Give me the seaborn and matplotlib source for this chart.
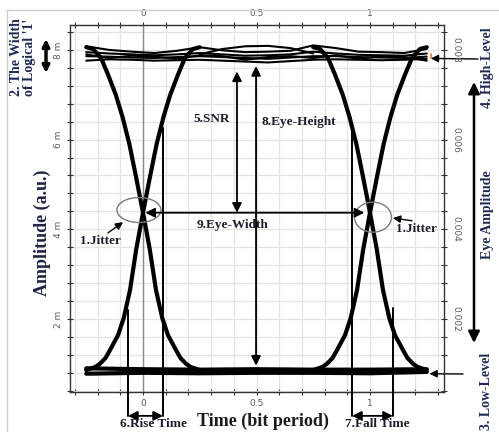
import matplotlib
matplotlib.use("Agg")
import matplotlib.pyplot as plt
from matplotlib.patches import Ellipse, Arc
import numpy as np
import pandas as pd
import seaborn as sns

# Eye diagram of a binary signal: time in bit periods, amplitude in mV.
crossings = [0.0, 1.0]

rise_dt = [-0.25, -0.21, -0.19, -0.165, -0.145, -0.11, -0.085, -0.057, -0.03,
           0.0, 0.03, 0.06, 0.09, 0.12, 0.155, 0.185, 0.22, 0.25]
rise_amp = [0.86, 0.93, 1.00, 1.13, 1.31, 1.64, 2.02, 2.65, 3.55,
            4.37, 5.15, 5.90, 6.50, 7.00, 7.46, 7.82, 8.02, 8.06]
fall_dt = [-0.25, -0.22, -0.185, -0.155, -0.12, -0.09, -0.06, -0.03, 0.0,
           0.03, 0.057, 0.085, 0.11, 0.145, 0.165, 0.19, 0.21, 0.25]
fall_amp = [8.06, 8.02, 7.82, 7.46, 7.00, 6.50, 5.90, 5.15, 4.37,
            3.55, 2.65, 2.02, 1.64, 1.31, 1.13, 1.00, 0.93, 0.86]

high_t = [-0.25, -0.15, -0.05, 0.05, 0.15, 0.25, 0.35, 0.45,
          0.55, 0.65, 0.75, 0.85, 0.95, 1.05, 1.15, 1.25]
high_a = [8.08, 8.00, 7.96, 7.93, 7.98, 8.06, 7.99, 7.95,
          7.96, 7.98, 8.10, 8.04, 7.96, 7.95, 7.93, 8.02]
high_b = [7.95, 7.92, 7.90, 7.88, 7.90, 7.93, 7.90, 7.87,
          7.88, 7.90, 7.96, 7.92, 7.89, 7.88, 7.87, 7.92]
high_c = [7.86, 7.85, 7.83, 7.82, 7.84, 7.86, 7.84, 7.82,
          7.80, 7.83, 7.86, 7.86, 7.84, 7.83, 7.82, 7.85]
high_d = [7.76, 7.79, 7.78, 7.76, 7.77, 7.78, 7.76, 7.74,
          7.72, 7.75, 7.78, 7.79, 7.78, 7.77, 7.78, 7.80]
high_e = [7.90, 7.82, 7.87, 7.85, 7.80, 7.88, 7.86, 7.78,
          7.84, 7.86, 7.82, 7.88, 7.80, 7.86, 7.84, 7.76]
arc_t = [0.25, 0.35, 0.45, 0.55, 0.65, 0.75]
arc_a = [7.90, 8.02, 8.08, 8.09, 8.04, 7.92]

low_t = [-0.25, 0.0, 0.25, 0.5, 0.75, 1.0, 1.25]
low_a = [0.90, 0.88, 0.87, 0.88, 0.87, 0.87, 0.88]
low_b = [0.78, 0.80, 0.79, 0.80, 0.80, 0.79, 0.82]

high_level = 7.86
low_level = 0.84
cross_level = 4.37

x_ticks = [0, 0.5, 1]
x_ticklabels = ["0", "0.5", "1"]
y_ticks = [2, 4, 6, 8]
y_left_labels = ["2 m", "4 m", "6 m", "8 m"]
y_right_labels = ["0.002", "0.004", "0.006", "0.008"]

# ---- long-form tables for seaborn ----
edge_rows = []
for k, c in enumerate(crossings):
    for t, a in zip(rise_dt, rise_amp):
        edge_rows.append(("rise%d" % k, c + t, a))
    for t, a in zip(fall_dt, fall_amp):
        edge_rows.append(("fall%d" % k, c + t, a))
edges = pd.DataFrame(edge_rows, columns=["trace", "t", "amp"])

band_rows = []
for name, vals in [("a", high_a), ("b", high_b), ("c", high_c),
                   ("d", high_d), ("e", high_e)]:
    for t, a in zip(high_t, vals):
        band_rows.append((name, t, a))
for t, a in zip(arc_t, arc_a):
    band_rows.append(("arc", t, a))
band = pd.DataFrame(band_rows, columns=["trace", "t", "amp"])

low_rows = []
for name, vals in [("a", low_a), ("b", low_b)]:
    for t, a in zip(low_t, vals):
        low_rows.append((name, t, a))
low = pd.DataFrame(low_rows, columns=["trace", "t", "amp"])

# ---- figure ----
sns.set_theme(style="white")
plt.rcParams["font.family"] = ["Liberation Serif", "DejaVu Serif"]

W, H = 499, 432
fig = plt.figure(figsize=(W / 100, H / 100), dpi=100)
fig.patch.set_facecolor("white")


def fpx(px, py):
    """Figure-pixel position to figure fraction."""
    return (px / W, 1 - py / H)


# thin outer frame
fig.add_artist(plt.Line2D([7 / W, 1], [1 - 10 / H, 1 - 10 / H], color="#cfcfcf", lw=1,
                          transform=fig.transFigure))
fig.add_artist(plt.Line2D([7 / W, 7 / W], [0, 1 - 10 / H], color="#cfcfcf", lw=1,
                          transform=fig.transFigure))

ax = fig.add_axes([70 / W, 1 - 392 / H, 374 / W, 367 / H])
ax.set_xlim(-0.3216, 1.326)
ax.set_ylim(0.372, 8.555)

ax.set_xticks(x_ticks)
ax.set_xticklabels(x_ticklabels)
ax.set_xticks(np.round(np.arange(-0.3, 1.31, 0.1), 2), minor=True)
ax.set_yticks(y_ticks)
ax.set_yticklabels(y_left_labels, rotation=90, va="center")
ax.set_yticks(np.round(np.arange(0.4, 8.41, 0.4), 2), minor=True)
ax.grid(which="both", color="#e4e4e4", lw=0.9, zorder=0)
ax.set_axisbelow(True)
ax.axvline(0, color="#8c8c8c", lw=1.0, zorder=1)

for s in ax.spines.values():
    s.set_color("#333333")
    s.set_linewidth(1.0)
ax.tick_params(which="both", direction="inout", length=4, width=0.8, color="#333333",
               top=True, bottom=True, left=True, right=True,
               labeltop=True, labelbottom=True, labelsize=6.5, labelcolor="#5a5a5a")
ax.tick_params(axis="x", pad=3)
ax.tick_params(axis="y", pad=3)
for lab in ax.get_xticklabels() + ax.get_yticklabels():
    lab.set_family("DejaVu Sans")

ax2 = ax.twinx()
ax2.set_ylim(ax.get_ylim())
ax2.set_yticks(y_ticks)
ax2.set_yticklabels(y_right_labels, rotation=-90, va="center", family="DejaVu Sans")
ax2.set_yticks(np.round(np.arange(0.4, 8.41, 0.4), 2), minor=True)
ax2.tick_params(which="both", direction="inout", length=4, width=0.8, color="#333333",
                labelsize=6.5, labelcolor="#5a5a5a", pad=3)
for s in ax2.spines.values():
    s.set_visible(False)
ax2.grid(False)

# ---- traces ----
sns.lineplot(data=band, x="t", y="amp", units="trace", estimator=None, sort=False,
             color="black", lw=1.5, ax=ax, zorder=3)
sns.lineplot(data=low, x="t", y="amp", units="trace", estimator=None, sort=False,
             color="black", lw=3.0, ax=ax, zorder=3)
sns.lineplot(data=edges, x="t", y="amp", units="trace", estimator=None, sort=False,
             color="black", lw=3.0, ax=ax, zorder=3)
ax.set_xlabel("")
ax.set_ylabel("")

txt = dict(fontweight="bold", color="#1c1c2c", fontsize=9.5)
navy = dict(fontweight="bold", color="#1f2a55", fontsize=10)
arrow2 = dict(arrowstyle="<|-|>", color="black", lw=1.3, mutation_scale=14,
              shrinkA=0, shrinkB=0)
arrow1 = dict(arrowstyle="-|>", color="black", lw=1.0, mutation_scale=11,
              shrinkA=0, shrinkB=0)

# SNR and eye height
ax.annotate("", xy=(0.414, 7.52), xytext=(0.414, cross_level), arrowprops=arrow2, zorder=5)
ax.text(0.304, 6.46, "5.SNR", ha="center", va="center", **txt)
ax.annotate("", xy=(0.498, 7.64), xytext=(0.498, low_level + 0.12), arrowprops=arrow2, zorder=5)
ax.text(0.524, 6.39, "8.Eye-Height", ha="left", va="center", **txt)

# eye width
ax.annotate("", xy=(0.01, cross_level), xytext=(0.975, cross_level), arrowprops=arrow2, zorder=5)
ax.text(0.396, 4.10, "9.Eye-Width", ha="center", va="center", **txt)

# jitter
ax.add_patch(Ellipse((-0.018, 4.43), 0.194, 0.557, fill=False, ec="#7a7a7a", lw=1.0, zorder=4))
ax.add_patch(Ellipse((1.013, 4.27), 0.163, 0.669, fill=False, ec="#7a7a7a", lw=1.0, zorder=4))
ax.annotate("", xy=(-0.088, 4.16), xytext=(-0.154, 3.92), arrowprops=arrow1, zorder=5)
ax.text(-0.189, 3.74, "1.Jitter", ha="center", va="center", **txt)
ax.annotate("", xy=(1.101, 4.25), xytext=(1.185, 4.19), arrowprops=arrow1, zorder=5)
ax.text(1.203, 4.00, "1.Jitter", ha="center", va="center", **txt)

# rise / fall time markers
lo_y = -0.16
for x0, y0 in [(-0.066, 2.2), (0.088, 6.26), (0.921, 6.26), (1.101, 2.25)]:
    ax.plot([x0, x0], [y0, lo_y], color="black", lw=1.4, clip_on=False, zorder=5)
ax.annotate("", xy=(-0.066, lo_y), xytext=(0.088, lo_y), arrowprops=arrow2,
            annotation_clip=False)
ax.annotate("", xy=(0.921, lo_y), xytext=(1.101, lo_y), arrowprops=arrow2,
            annotation_clip=False)
fig.text(*fpx(154, 424), "6.Rise Time", ha="center", va="center", **txt)
fig.text(*fpx(377, 424), "7.Fall Time", ha="center", va="center", **txt)

# end-of-band marker
ax.add_patch(Arc((1.252, high_level), 0.035, 0.38, theta1=-75, theta2=75,
                 color="#d98a2e", lw=1.3, zorder=4))

# axis titles
fig.text(*fpx(42, 233), "Amplitude (a.u.)", rotation=90, ha="center", va="center",
         fontsize=13, fontweight="bold", color="#1f2440")
fig.text(*fpx(263, 421), "Time (bit period)", ha="center", va="center",
         fontsize=13, fontweight="bold", color="#1c1a1a")

# right-hand side labels and pointers
fig.text(*fpx(488, 68), "4. High-Level", rotation=90, ha="center", va="center", **navy)
fig.text(*fpx(487, 215), "Eye Amplitude", rotation=90, ha="center", va="center", **navy)
fig.text(*fpx(487, 391), "3. Low-Level", rotation=90, ha="center", va="center", **navy)
ax.annotate("", xy=fpx(474, 343), xytext=fpx(474, 82), xycoords="figure fraction",
            textcoords="figure fraction",
            arrowprops=dict(arrowstyle="<|-|>", color="black", lw=1.8, mutation_scale=17,
                            shrinkA=0, shrinkB=0), annotation_clip=False)
ax.annotate("", xy=(1.268, high_level - 0.05), xytext=fpx(478, 59), xycoords="data",
            textcoords="figure fraction", arrowprops=arrow1, annotation_clip=False)
ax.annotate("", xy=(1.262, low_level - 0.06), xytext=fpx(463, 374), xycoords="data",
            textcoords="figure fraction", arrowprops=arrow1, annotation_clip=False)

# left-hand label for logical one width
fig.text(*fpx(23, 57), "2. The Width\nof Logical '1'", rotation=90, ha="center",
         va="center", multialignment="center", linespacing=1.0, **navy)
ax.annotate("", xy=fpx(46, 39), xytext=fpx(46, 73), xycoords="figure fraction",
            textcoords="figure fraction",
            arrowprops=dict(arrowstyle="<|-|>", color="black", lw=2.5, mutation_scale=10,
                            shrinkA=0, shrinkB=0), annotation_clip=False)

fig.savefig("out.png", dpi=100)
